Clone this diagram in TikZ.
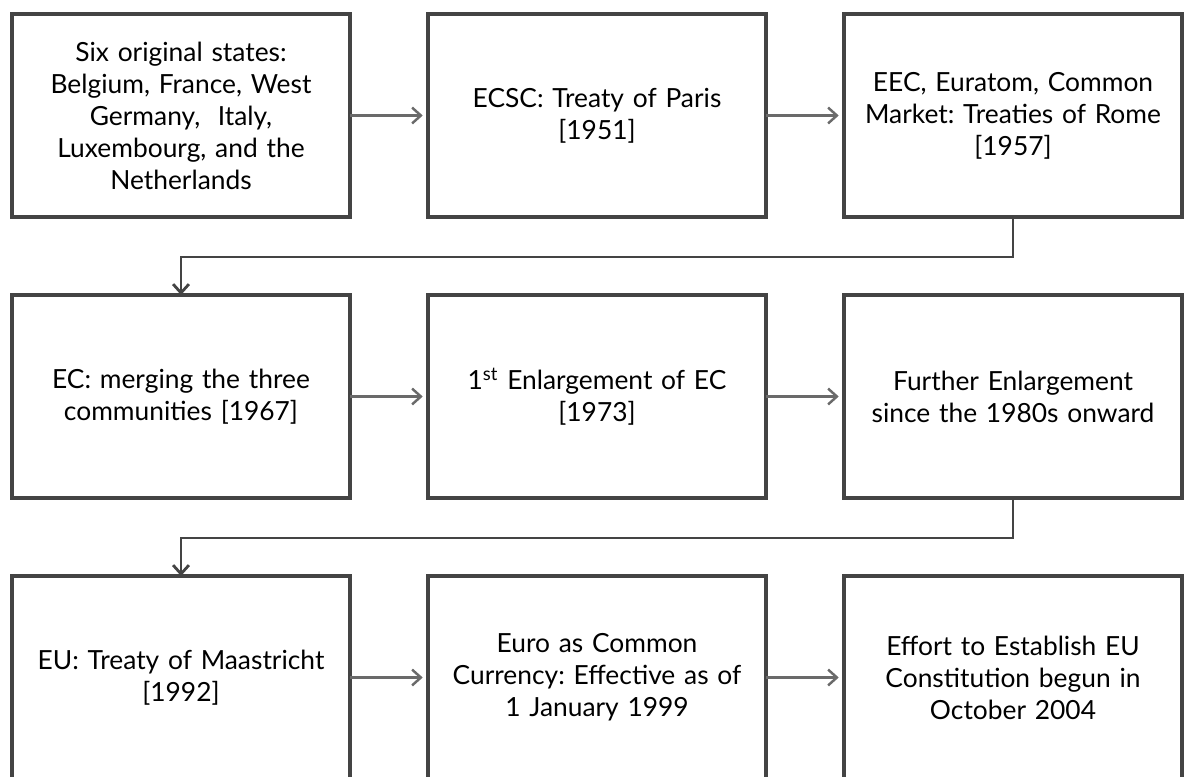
\documentclass[tikz,border=0pt]{standalone}
\usepackage{fontspec}
\setmainfont{Lato}
\usepackage{xcolor}
\usepackage{tikz}
\usetikzlibrary{arrows.meta, positioning}
\definecolor{boxline}{HTML}{444444}
\definecolor{flow}{HTML}{6A6A6A}
\frenchspacing

\begin{document}
\begin{tikzpicture}[
    node distance=1.56cm and 1.56cm,
    box/.style={draw=boxline, line width=2.2pt, fill=white, outer sep=0pt,
                minimum width=6.76cm, minimum height=4.06cm, text width=6.2cm,
                align=center, font=\fontsize{15}{18.2}\selectfont},
    arrow/.style={-{Straight Barb[length=5pt, width=9pt, line width=1.4pt]},
                  line width=2pt, flow, shorten >=3pt},
    link/.style={-{Straight Barb[length=5pt, width=9pt, line width=1.6pt]},
                 line width=1.2pt, boxline}
  ]
    \useasboundingbox (0,0) rectangle (23.72,-15.52);

    % first row
    \node[box] (six) at (3.62,-2.31)
      {Six original states:\\ Belgium, France, West\\ Germany,\ \ Italy,\\ Luxembourg, and the\\ Netherlands};
    \node[box, right=of six] (ecsc) {ECSC: Treaty of Paris\\ {[}1951{]}};
    \node[box, right=of ecsc] (eec)
      {EEC, Euratom, Common\\ Market: Treaties of Rome\\ {[}1957{]}};

    % second row
    \node[box, below=of six] (ec) {EC: merging the three\\ communities {[}1967{]}};
    \node[box, right=of ec] (first) {1\textsuperscript{st} Enlargement of EC\\ {[}1973{]}};
    \node[box, right=of first] (further)
      {Further Enlargement\\ since the 1980s onward};

    % third row
    \node[box, below=of ec] (eu) {EU: Treaty of Maastricht\\ {[}1992{]}};
    \node[box, right=of eu] (euro)
      {Euro as Common\\ Currency: Effective as of\\ 1 January 1999};
    \node[box, right=of euro] (constitution)
      {Effort to Establish EU\\ Constitution begun in\\ October 2004};

    \draw[arrow] (six) -- (ecsc);
    \draw[arrow] (ecsc) -- (eec);
    \draw[arrow] (ec) -- (first);
    \draw[arrow] (first) -- (further);
    \draw[arrow] (eu) -- (euro);
    \draw[arrow] (euro) -- (constitution);

    % row changes
    \draw[link] (eec.south) -- ++(0,-0.8) -| (ec.north);
    \draw[link] (further.south) -- ++(0,-0.8) -| (eu.north);
  \end{tikzpicture}
\end{document}
